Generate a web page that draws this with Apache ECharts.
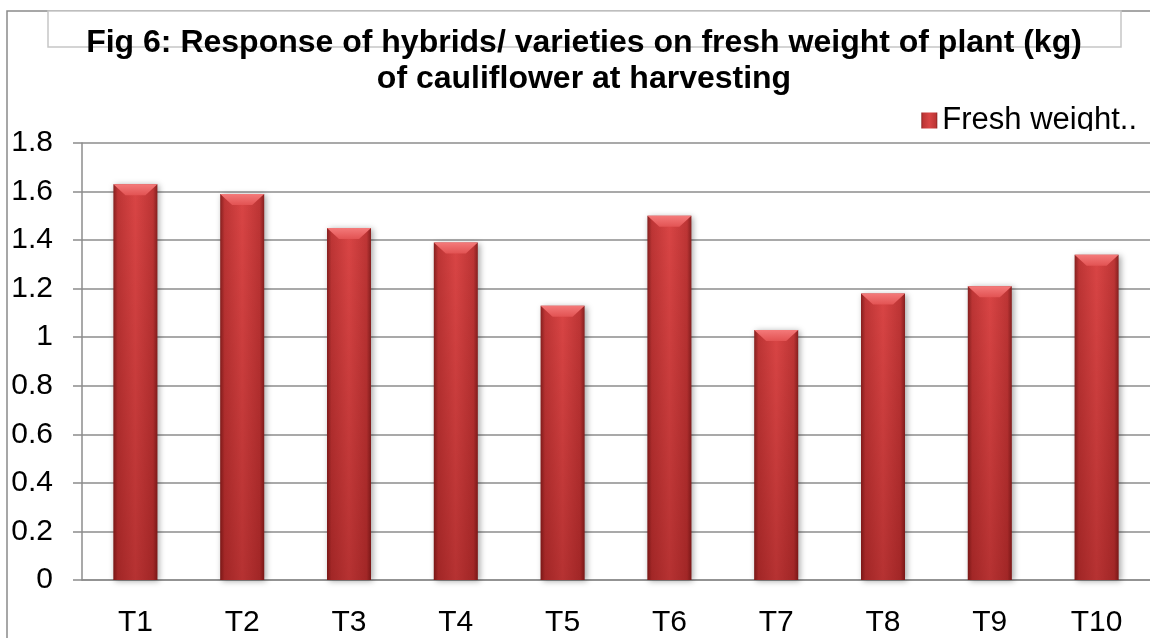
<!DOCTYPE html>
<html>
<head>
<meta charset="utf-8">
<script src="https://cdn.jsdelivr.net/npm/echarts@6/dist/echarts.min.js"></script>
<style>
    html, body { margin: 0; padding: 0; background: #fff; }
    #chart { width: 1150px; height: 638px; }
</style>
</head>
<body>
<div id="chart"></div>
<script>
var categories = ['T1', 'T2', 'T3', 'T4', 'T5', 'T6', 'T7', 'T8', 'T9', 'T10'];
var freshWeight = [1.63, 1.59, 1.45, 1.39, 1.13, 1.50, 1.03, 1.18, 1.21, 1.34];
var seriesName = 'Fresh weight..';
var yTicks = { min: 0, max: 1.8, interval: 0.2 };

var font = 'Liberation Sans, Arial, sans-serif';
var gridColor = '#8c8c8c';

var chart = echarts.init(document.getElementById('chart'));

var barFill = new echarts.graphic.LinearGradient(0, 0, 1, 0, [
    { offset: 0, color: '#86201f' },
    { offset: 0.1, color: '#bd3535' },
    { offset: 0.5, color: '#d94545' },
    { offset: 0.9, color: '#bd3535' },
    { offset: 1, color: '#86201f' }
]);
var barShade = new echarts.graphic.LinearGradient(0, 0, 0, 1, [
    { offset: 0, color: 'rgba(90,0,0,0)' },
    { offset: 1, color: 'rgba(90,0,0,0.28)' }
]);
var bevelFill = new echarts.graphic.LinearGradient(0, 0, 0, 1, [
    { offset: 0, color: '#f47a7a' },
    { offset: 1, color: '#e25353' }
]);

var option = {
    animation: false,
    title: {
        text: 'Fig 6: Response of hybrids/ varieties on fresh weight of plant (kg)\nof cauliflower at harvesting',
        left: 579,
        textAlign: 'center',
        top: 20,
        padding: 5,
        textStyle: {
            fontFamily: font,
            fontSize: 32,
            fontWeight: 'bold',
            color: '#000',
            lineHeight: 36
        }
    },
    legend: {
        data: [seriesName],
        right: 13,
        top: 105,
        padding: 0,
        icon: 'rect',
        itemWidth: 16,
        itemHeight: 16,
        itemGap: 4,
        textStyle: { fontFamily: font, fontSize: 31, color: '#000' }
    },
    grid: { left: 82, top: 143, width: 1071, height: 439 },
    xAxis: {
        type: 'category',
        data: categories,
        axisLine: { lineStyle: { color: gridColor, width: 1.5 } },
        axisTick: { length: 8, lineStyle: { color: gridColor, width: 1.5 } },
        axisLabel: { fontFamily: font, fontSize: 30, color: '#000', margin: 28 }
    },
    yAxis: {
        type: 'value',
        min: yTicks.min,
        max: yTicks.max,
        interval: yTicks.interval,
        axisLine: { show: true, lineStyle: { color: gridColor, width: 1.5 } },
        axisTick: { show: true, length: 9, lineStyle: { color: gridColor, width: 1.5 } },
        axisLabel: { fontFamily: font, fontSize: 30, color: '#000', margin: 29 },
        splitLine: { lineStyle: { color: gridColor, width: 1.5 } }
    },
    graphic: [
        {
            type: 'polyline', z: 1, silent: true,
            shape: { points: [[7, 638], [7, 11], [1150, 11]] },
            style: { stroke: '#8a8a8a', lineWidth: 1.5, fill: null }
        },
        {
            type: 'rect', z: 2, silent: true,
            shape: { x: 48, y: 11, width: 1073, height: 36 },
            style: { stroke: '#c6c6c6', lineWidth: 1.5, fill: '#fff' }
        },
        // excel cuts the legend text off at the bottom
        {
            type: 'rect', z: 100, silent: true,
            shape: { x: 900, y: 131, width: 250, height: 9 },
            style: { fill: '#fff' }
        }
    ],
    series: [
        {
            name: seriesName,
            type: 'bar',
            barWidth: 44,
            barGap: '-100%',
            data: freshWeight,
            itemStyle: {
                color: barFill,
                shadowColor: 'rgba(0,0,0,0.35)',
                shadowBlur: 6,
                shadowOffsetX: 2,
                shadowOffsetY: 1
            }
        },
        {
            name: 'shade',
            type: 'bar',
            barWidth: 44,
            barGap: '-100%',
            silent: true,
            data: freshWeight,
            itemStyle: { color: barShade }
        },
        {
            name: 'bevel',
            type: 'pictorialBar',
            symbol: 'path://M0,0 L44,0 L32,11 L12,11 Z',
            symbolSize: [44, 11],
            symbolPosition: 'end',
            silent: true,
            z: 3,
            data: freshWeight,
            itemStyle: { color: bevelFill }
        }
    ]
};

chart.setOption(option);
</script>
</body>
</html>
